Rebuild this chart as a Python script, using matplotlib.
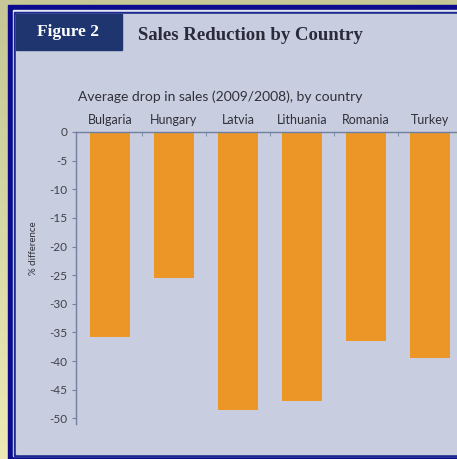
import numpy as np
import matplotlib.pyplot as plt
from matplotlib.patches import Rectangle

# data
countries = ['Bulgaria', 'Hungary', 'Latvia', 'Lithuania', 'Romania', 'Turkey']
drop = [-35.8, -25.5, -48.5, -47.0, -36.5, -39.5]
yticks = [0, -5, -10, -15, -20, -25, -30, -35, -40, -45, -50]

W, H = 457, 459
navy = '#0a0a8c'
panel = '#c9cde0'
orange = '#ec9628'
sans = ['Lato', 'DejaVu Sans']

fig = plt.figure(figsize=(W / 100, H / 100), dpi=100)

# background and frame, drawn in pixel units
bg = fig.add_axes([0, 0, 1, 1])
bg.set_xlim(0, W)
bg.set_ylim(H, 0)
bg.axis('off')
grad = np.linspace(0, 1, 256).reshape(-1, 1)
bg.imshow(grad, extent=[0, W, H, 0], aspect='auto',
          cmap=plt.matplotlib.colors.LinearSegmentedColormap.from_list(
              'bgk', ['#c6c696', '#d8d8a6', '#eeeab6']))
bg.add_patch(Rectangle((8, 5), W, 454, color=navy))
bg.add_patch(Rectangle((13, 10), W, 446, color='#e4e6f2'))
bg.add_patch(Rectangle((14, 12), W, 444, color='#1a2a90'))
bg.add_patch(Rectangle((16, 14), W, 440, color=panel))
bg.add_patch(Rectangle((16, 14), 106, 36, color='#1f3570'))
bg.text(68, 32, 'Figure 2', color='white', fontsize=12.5, fontweight='bold',
        family='Liberation Serif', ha='center', va='center')
bg.text(138, 35, 'Sales Reduction by Country', color='#2a2a3a', fontsize=13.5,
        fontweight='bold', family='Liberation Serif', ha='left', va='center')
bg.text(78, 97, 'Average drop in sales (2009/2008), by country', color='#303038',
        fontsize=10, family=sans, ha='left', va='center')
bg.text(33, 248, '% difference', color='#303038', fontsize=7, family=sans,
        rotation=90, ha='center', va='center')

# main bar axes
ax = fig.add_axes([76 / W, 1 - 424 / H, (W - 76) / W, 292 / H])
ax.set_facecolor('none')
x = np.arange(len(countries))
ax.bar(x, drop, width=0.62, color=orange, zorder=2)
ax.set_xlim(-0.53, 5.42)
ax.set_ylim(-51, 0)

ax.xaxis.tick_top()
ax.set_xticks(x)
ax.set_xticklabels(countries, family=sans, fontsize=9, color='#303038')
ax.set_xticks(x[:-1] + 0.5, minor=True)
ax.tick_params(axis='x', which='major', length=0, pad=4)
ax.tick_params(axis='x', which='minor', direction='in', length=3, color='#7080a0')

ax.set_yticks(yticks)
ax.set_yticklabels([str(v) for v in yticks], family=sans, fontsize=8.5, color='#404048')
ax.tick_params(axis='y', direction='out', length=3, color='#7080a0', pad=3)

for s in ['right', 'bottom']:
    ax.spines[s].set_visible(False)
for s in ['left', 'top']:
    ax.spines[s].set_color('#7080a0')
    ax.spines[s].set_linewidth(1)

fig.savefig('out.png', dpi=100)
